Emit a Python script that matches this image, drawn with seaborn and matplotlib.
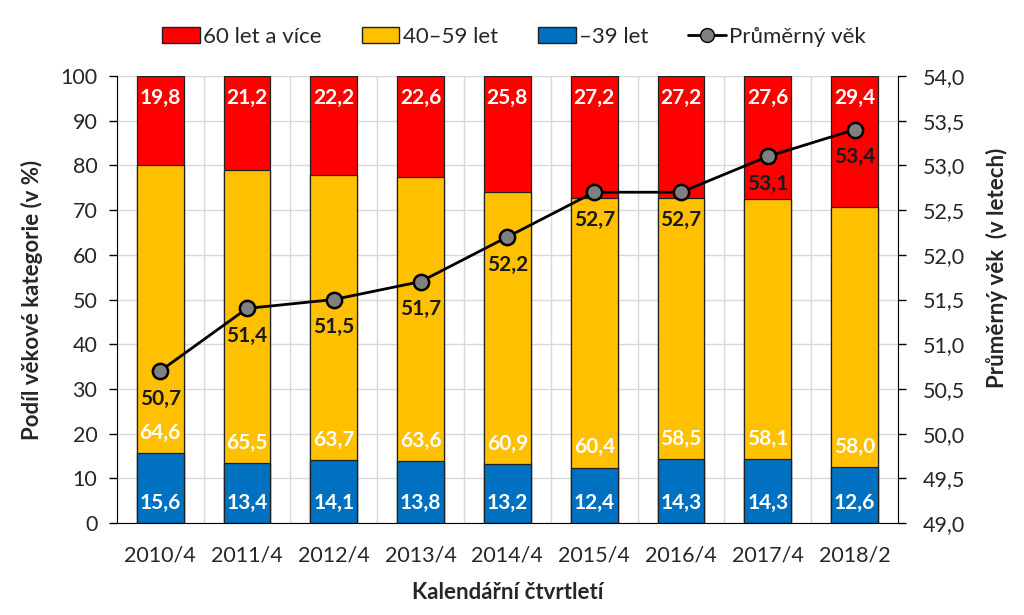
import numpy as np
import pandas as pd
import matplotlib
matplotlib.use("Agg")
import matplotlib.pyplot as plt
import seaborn as sns
from matplotlib.patches import Patch
from matplotlib.lines import Line2D

quarters = ["2010/4", "2011/4", "2012/4", "2013/4", "2014/4", "2015/4", "2016/4", "2017/4", "2018/2"]
share_young = [15.6, 13.4, 14.1, 13.8, 13.2, 12.4, 14.3, 14.3, 12.6]
share_mid = [64.6, 65.5, 63.7, 63.6, 60.9, 60.4, 58.5, 58.1, 58.0]
share_old = [19.8, 21.2, 22.2, 22.6, 25.8, 27.2, 27.2, 27.6, 29.4]
avg_age = [50.7, 51.4, 51.5, 51.7, 52.2, 52.7, 52.7, 53.1, 53.4]

sns.set_style("white")
plt.rcParams['font.family'] = ['Lato', 'DejaVu Sans']

RED, ORANGE, BLUE = "#ff0000", "#ffc000", "#0070c0"

df = pd.DataFrame({"q": quarters, "young": share_young, "mid": share_mid, "old": share_old})
df["lower2"] = df["young"] + df["mid"]
df["total"] = df["lower2"] + df["old"]

fig = plt.figure(figsize=(10.24, 6.15), dpi=100)
ax = fig.add_axes([0.114, 0.1496, 0.763, 0.7268])

bw = 0.54
for col, c in [("total", RED), ("lower2", ORANGE), ("young", BLUE)]:
    sns.barplot(data=df, x="q", y=col, color=c, width=bw, edgecolor="#202020",
                linewidth=0.9, saturation=1, ax=ax)

ax.set_ylim(0, 100)
ax.set_xlim(-0.5, len(quarters) - 0.5)
ax.set_yticks(range(0, 101, 10))
ax.set_axisbelow(True)
ax.grid(axis="y", color="#d9d9d9", linewidth=1)
ax.set_xticks(np.arange(-0.5, len(quarters), 1.0), minor=True)
ax.grid(axis="x", which="minor", color="#d9d9d9", linewidth=1)
ax.tick_params(axis="x", which="major", length=0, labelsize=15.5, pad=16)
ax.tick_params(axis="x", which="minor", length=7, width=1, color="black", direction="out")
ax.tick_params(axis="y", length=6, width=1, color="black", direction="out", labelsize=15.5, pad=8)
for s in ["left", "bottom"]:
    ax.spines[s].set_color("black")
for s in ["top", "right"]:
    ax.spines[s].set_visible(False)

ax.set_xlabel("Kalendářní čtvrtletí", fontsize=16, fontweight="bold", labelpad=12)
ax.set_ylabel("Podíl věkové kategorie (v %)", fontsize=16, fontweight="bold")
ax.yaxis.set_label_coords(-0.094, 0.5)

fmt = lambda v: f"{v:.1f}".replace(".", ",")
for i, row in df.iterrows():
    ax.text(i, 4.5, fmt(row["young"]), ha="center", va="center", color="white",
            fontsize=15, fontweight="bold")
    ax.text(i, row["young"] + 4.5, fmt(row["mid"]), ha="center", va="center", color="white",
            fontsize=15, fontweight="bold")
    ax.text(i, 95.0, fmt(row["old"]), ha="center", va="center", color="white",
            fontsize=15, fontweight="bold")

ax2 = ax.twinx()
sns.lineplot(x=np.arange(len(quarters)), y=avg_age, color="black", linewidth=2,
             marker="o", markersize=11, markerfacecolor="#808080", markeredgecolor="black",
             markeredgewidth=1.8, ax=ax2)
ax2.set_ylim(49, 54)
ax2.set_yticks(np.arange(49, 54.01, 0.5))
ax2.set_yticklabels([fmt(v) for v in np.arange(49, 54.01, 0.5)])
ax2.tick_params(axis="y", length=6, width=1, color="black", direction="out", labelsize=15.5, pad=12)
ax2.spines["right"].set_color("black")
for s in ["top", "left", "bottom"]:
    ax2.spines[s].set_visible(False)
ax2.set_ylabel("Průměrný věk  (v letech)", fontsize=16, fontweight="bold")
ax2.yaxis.set_label_coords(1.113, 0.57)
ax2.set_xlim(-0.5, len(quarters) - 0.5)

for i, v in enumerate(avg_age):
    ax2.annotate(fmt(v), (i, v), xytext=(0, -20), textcoords="offset points",
                 ha="center", va="center", fontsize=15, fontweight="bold", color="#1a1a1a")

handles = [Patch(facecolor=RED, edgecolor="#202020"),
           Patch(facecolor=ORANGE, edgecolor="#202020"),
           Patch(facecolor=BLUE, edgecolor="#202020"),
           Line2D([0], [0], color="black", linewidth=2, marker="o", markersize=10,
                  markerfacecolor="#808080", markeredgecolor="black")]
labels = ["60 let a více", "40–59 let", "–39 let", "Průměrný věk"]
fig.legend(handles, labels, loc="center", bbox_to_anchor=(0.502, 0.94), ncol=4, frameon=False,
           fontsize=16, handlelength=1.7, handletextpad=0.15, columnspacing=1.8)

fig.savefig("out.png", dpi=100)
